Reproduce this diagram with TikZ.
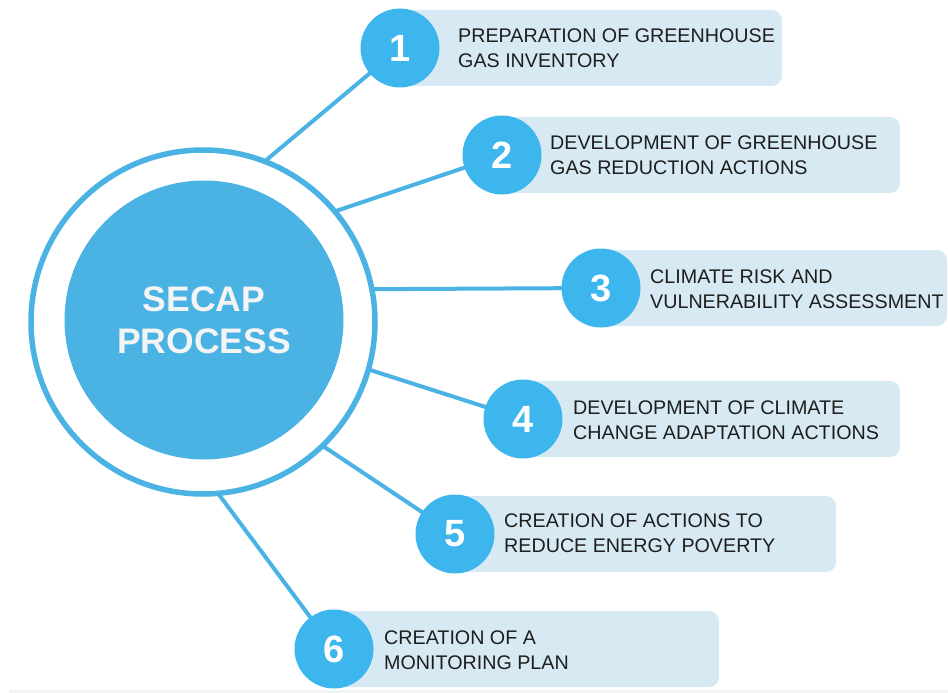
\documentclass[tikz,border=0pt]{standalone}
\usepackage{fontspec}
\setmainfont{Liberation Sans}
\newfontfamily\itemfont{Liberation Sans}
\definecolor{mainblue}{HTML}{4AB3E3}
\definecolor{numblue}{HTML}{3DB6EE}
\definecolor{boxblue}{HTML}{D7EAF4}
\definecolor{textdark}{HTML}{1E1E1E}
\definecolor{titlewhite}{HTML}{F4F4F4}
\definecolor{stripgray}{HTML}{F3F5F5}
\tikzset{
  connector/.style={draw=mainblue, line width=4pt},
  numcircle/.style={circle, fill=numblue, minimum size=79pt, inner sep=0pt, outer sep=0pt,
    text=white, font=\fontsize{38}{38}\selectfont\bfseries},
  itembox/.style={rectangle, fill=boxblue, rounded corners=10pt, minimum height=76pt,
    inner sep=0pt, outer sep=0pt, anchor=west},
  itemtext/.style={anchor=west, align=left, inner sep=0pt, text=textdark,
    font=\itemfont\fontsize{19.7}{25.5}\selectfont},
}
\begin{document}
\begin{tikzpicture}[x=1pt, y=-1pt]
\useasboundingbox (0,0) rectangle (948,693);
\fill[stripgray] (9,690) rectangle (948,693);

% central circle (ring)
\node[circle, minimum size=344pt, inner sep=0pt, outer sep=0pt] (ring) at (203,322) {};

% number circles positions
\coordinate (c1) at (400,48);
\coordinate (c2) at (502,155);
\coordinate (c3) at (601,288);
\coordinate (c4) at (523,419);
\coordinate (c5) at (455,534);
\coordinate (c6) at (334,649);

% connectors
\draw[connector] (ring.69.4) -- (c1);
\draw[connector] (ring.40.6) -- (c2);
\draw[connector] (ring.11.4) -- (c3);
\draw[connector] (ring.-16.4) -- (c4);
\draw[connector] (ring.-46.8) -- (c5);
\draw[connector] (ring.-85.1) -- (c6);

% boxes
\node[itembox, minimum width=382pt] (b1) at (c1) {};
\node[itembox, minimum width=398pt] (b2) at (c2) {};
\node[itembox, minimum width=346pt] (b3) at (c3) {};
\node[itembox, minimum width=377pt] (b4) at (c4) {};
\node[itembox, minimum width=381pt] (b5) at (c5) {};
\node[itembox, minimum width=385pt] (b6) at (c6) {};

% number circles
\node[numcircle] (n1) at (c1) {1};
\node[numcircle] (n2) at (c2) {2};
\node[numcircle] (n3) at (c3) {3};
\node[numcircle] (n4) at (c4) {4};
\node[numcircle] (n5) at (c5) {5};
\node[numcircle] (n6) at (c6) {6};

% texts
\node[itemtext] (t1) at (458,48) {PREPARATION OF GREENHOUSE\\GAS INVENTORY};
\node[itemtext] (t2) at (550,155) {DEVELOPMENT OF GREENHOUSE\\GAS REDUCTION ACTIONS};
\node[itemtext] (t3) at (650,289) {CLIMATE RISK AND\\VULNERABILITY ASSESSMENT};
\node[itemtext] (t4) at (573,420) {DEVELOPMENT OF CLIMATE\\CHANGE ADAPTATION ACTIONS};
\node[itemtext] (t5) at (504,533) {CREATION OF ACTIONS TO\\REDUCE ENERGY POVERTY};
\node[itemtext] (t6) at (384,650) {CREATION OF A\\MONITORING PLAN};

% central circle drawing
\fill[white] (ring.center) circle (172pt);
\draw[mainblue, line width=5.5pt] (ring.center) circle (172pt);
\node[circle, fill=mainblue, minimum size=279pt, inner sep=0pt, text=titlewhite, align=center,
  font=\fontsize{35.5}{42}\selectfont\bfseries] (core) at (204,320) {SECAP\\PROCESS};
\end{tikzpicture}
\end{document}
